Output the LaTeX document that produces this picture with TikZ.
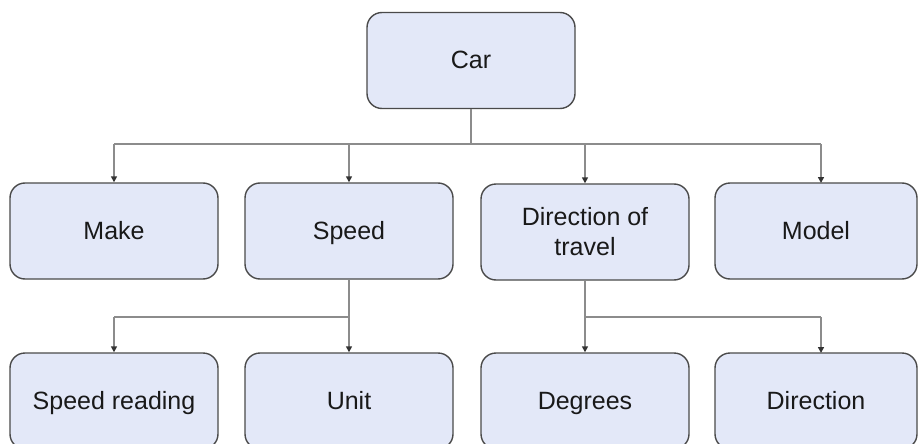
\documentclass[tikz,border=0pt]{standalone}
\usepackage{fontspec}
\setmainfont{Liberation Sans}
\usetikzlibrary{arrows.meta}
\definecolor{boxfill}{HTML}{E3E8F8}
\definecolor{boxline}{HTML}{4A4A4A}
\definecolor{linkline}{HTML}{8C8C8C}
\tikzset{
  item/.style={draw=boxline, line width=1.4pt, fill=boxfill, rounded corners=15pt,
    minimum width=208pt, minimum height=96pt, inner sep=0pt, align=center,
    font=\fontsize{25}{30}\selectfont, text=black!90},
  oneline/.style={text height=18pt, text depth=1pt},
  link/.style={draw=linkline, line width=2pt,
    -{Triangle[length=6pt,width=6pt,color=black!80]}},
  trunk/.style={draw=linkline, line width=2pt}
}
\begin{document}
\begin{tikzpicture}[x=1pt,y=-1pt]
\useasboundingbox (0,0) rectangle (918,444);
\clip (0,0) rectangle (918,444);
\fill[white] (0,0) rectangle (918,444);

% root
\node[item, oneline] (car) at (471,60.5) {Car};

% second level
\node[item, oneline] (make)  at (114,231) {Make};
\node[item, oneline] (speed) at (349,231) {Speed};
\node[item] (dir)   at (585,232) {Direction of\\travel};
\node[item, oneline, minimum width=202pt] (model) at (816,231) {Model};

% third level
\node[item, oneline] (reading) at (114,401) {Speed reading};
\node[item, oneline] (unit)    at (349,401) {Unit};
\node[item, oneline] (deg)     at (585,401) {Degrees};
\node[item, oneline, minimum width=202pt] (direction) at (816,401) {Direction};

% branch points
\coordinate (j1) at (471,144);
\coordinate (j2) at (349,317);
\coordinate (j3) at (585,317);

\draw[trunk] (car.south) -- (j1);
\draw[trunk] (114,144) -- (821,144);
\draw[link] (114,144) -- (make.north);
\draw[link] (349,144) -- (speed.north);
\draw[link] (585,144) -- (dir.north);
\draw[link] (821,144) -- (821,183);

\draw[trunk] (speed.south) -- (j2);
\draw[trunk] (114,317) -- (j2);
\draw[link] (114,317) -- (reading.north);
\draw[link] (j2) -- (unit.north);

\draw[trunk] (dir.south) -- (j3);
\draw[trunk] (j3) -- (821,317);
\draw[link] (j3) -- (deg.north);
\draw[link] (821,317) -- (821,353);
\end{tikzpicture}
\end{document}
